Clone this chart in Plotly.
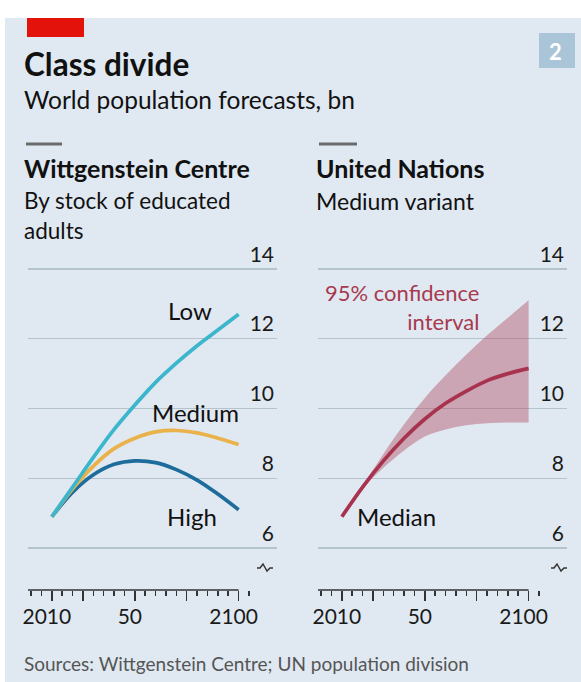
import plotly.graph_objects as go

W, H = 581, 682
FONT = "Lato"

years = [2010, 2020, 2030, 2040, 2050, 2060, 2070, 2080, 2090, 2100]
wc_low = [6.9, 7.75, 8.6, 9.4, 10.1, 10.75, 11.3, 11.8, 12.25, 12.7]
wc_medium = [6.9, 7.7, 8.35, 8.85, 9.15, 9.33, 9.37, 9.3, 9.15, 8.97]
wc_high = [6.9, 7.6, 8.1, 8.4, 8.5, 8.45, 8.25, 7.95, 7.55, 7.1]
un_median = [6.9, 7.75, 8.5, 9.15, 9.7, 10.15, 10.5, 10.8, 11.0, 11.15]
un_upper = [6.9, 7.8, 8.7, 9.55, 10.3, 10.95, 11.55, 12.1, 12.6, 13.1]
un_lower = [6.9, 7.7, 8.3, 8.8, 9.2, 9.4, 9.52, 9.58, 9.6, 9.6]

y_ticks = [6, 8, 10, 12, 14]
x_tickvals = [2010, 2025, 2050, 2075, 2100]
x_ticktext = ["2010", "", "50", "", "2100"]

BG = "#e0e9f1"
GRID = "#b5c3cd"
C_LOW = "#3cb6cc"
C_MED = "#e9b24a"
C_HIGH = "#1e6c9b"
C_UN = "#a8334f"


def px(x):
    return x / W


def py(y):
    return 1 - y / H


fig = go.Figure()

fig.add_trace(go.Scatter(x=years, y=wc_high, mode="lines", line=dict(color=C_HIGH, width=3.7, shape="spline"),
                         xaxis="x", yaxis="y", showlegend=False, hoverinfo="skip"))
fig.add_trace(go.Scatter(x=years, y=wc_medium, mode="lines", line=dict(color=C_MED, width=3.7, shape="spline"),
                         xaxis="x", yaxis="y", showlegend=False, hoverinfo="skip"))
fig.add_trace(go.Scatter(x=years, y=wc_low, mode="lines", line=dict(color=C_LOW, width=3.7, shape="spline"),
                         xaxis="x", yaxis="y", showlegend=False, hoverinfo="skip"))

fig.add_trace(go.Scatter(x=years, y=un_upper, mode="lines", line=dict(color="rgba(0,0,0,0)", width=0, shape="spline"),
                         xaxis="x2", yaxis="y2", showlegend=False, hoverinfo="skip"))
fig.add_trace(go.Scatter(x=years, y=un_lower, mode="lines", line=dict(color="rgba(0,0,0,0)", width=0, shape="spline"),
                         fill="tonexty", fillcolor="rgba(176,62,90,0.40)",
                         xaxis="x2", yaxis="y2", showlegend=False, hoverinfo="skip"))
fig.add_trace(go.Scatter(x=years, y=un_median, mode="lines", line=dict(color=C_UN, width=3.7, shape="spline"),
                         xaxis="x2", yaxis="y2", showlegend=False, hoverinfo="skip"))

xr = [1998.5, 2118.5]
yr = [6 - (590 - 548) / 35, 14 + (269 - 236) / 35]
ydom = [py(590), py(236)]

xcommon = dict(range=xr, showgrid=False, zeroline=False, showline=False,
               tickmode="array", tickvals=x_tickvals, ticktext=x_ticktext,
               ticks="outside", ticklen=10, tickwidth=1.5, tickcolor="#333333",
               minor=dict(tickmode="linear", tick0=2010, dtick=5, ticks="outside", ticklen=5,
                          tickwidth=1.5, tickcolor="#333333", showgrid=False),
               tickfont=dict(family=FONT, size=21, color="#1a1a1a"),
               ticklabelshift=-5, ticklabelstandoff=-2,
               automargin=False, fixedrange=True)
ycommon = dict(range=yr, domain=ydom, showgrid=True, gridcolor=GRID, gridwidth=1.5,
               zeroline=False, showline=False, tickmode="array", tickvals=y_ticks,
               ticks="", side="right", ticklabelposition="inside top",
               tickfont=dict(family=FONT, size=21, color="#1a1a1a"),
               automargin=False, fixedrange=True)

fig.update_layout(
    width=W, height=H,
    margin=dict(l=0, r=0, t=0, b=0),
    paper_bgcolor="white", plot_bgcolor="rgba(0,0,0,0)",
    xaxis=dict(domain=[px(28), px(277)], anchor="y", **xcommon),
    yaxis=dict(anchor="x", **ycommon),
    xaxis2=dict(domain=[px(318), px(567)], anchor="y2", **xcommon),
    yaxis2=dict(anchor="x2", **ycommon),
    font=dict(family=FONT),
)

shapes = []
shapes.append(dict(type="rect", xref="paper", yref="paper", x0=px(5), x1=1, y0=0, y1=py(18),
                   fillcolor=BG, line=dict(width=0), layer="below"))
shapes.append(dict(type="rect", xref="paper", yref="paper", x0=px(27), x1=px(84), y0=py(37), y1=py(18),
                   fillcolor="#e3120b", line=dict(width=0)))
shapes.append(dict(type="rect", xref="paper", yref="paper", x0=px(539), x1=px(575), y0=py(68), y1=py(33),
                   fillcolor="#a9c5d7", line=dict(width=0)))
for x0, x1 in [(26, 62), (319, 357)]:
    shapes.append(dict(type="line", xref="paper", yref="paper", x0=px(x0), x1=px(x1), y0=py(144), y1=py(144),
                       line=dict(color="#6b6b6b", width=3)))
for xa, ya in [("x", "y"), ("x2", "y2")]:
    shapes.append(dict(type="line", xref=xa, yref=ya + " domain", x0=xr[0], x1=2100, y0=0, y1=0,
                       line=dict(color="#333333", width=1.5)))
for x0 in [257, 551]:
    pts = [(x0, 568), (x0 + 3, 568), (x0 + 6, 564), (x0 + 10, 571), (x0 + 13, 568), (x0 + 16, 568)]
    path = "M " + " L ".join(f"{px(a)},{py(b)}" for a, b in pts)
    shapes.append(dict(type="path", xref="paper", yref="paper", path=path,
                       line=dict(color="#333333", width=1.5)))

fig.update_layout(shapes=shapes)

ann = []


def text(x, y, s, size, bold=False, color="#111111", xanchor="left", align="left"):
    ann.append(dict(xref="paper", yref="paper", x=px(x), y=py(y), text=f"<b>{s}</b>" if bold else s,
                    showarrow=False, xanchor=xanchor, yanchor="middle", align=align,
                    font=dict(family=FONT, size=size, color=color)))


text(547, 51, "2", 22, bold=True, color="white")
text(22, 64, "Class divide", 31.5, bold=True)
text(22, 100, "World population forecasts, bn", 24.5)
text(22, 168, "Wittgenstein Centre", 25, bold=True)
text(314, 168, "United Nations", 25, bold=True)
text(22, 201, "By stock of educated", 22.5)
text(22, 231, "adults", 22.5)
text(314, 201, "Medium variant", 23)
text(22, 663, "Sources: Wittgenstein Centre; UN population division", 19, color="#555555")


def dtext(xa, ya, x, y, s, size=24, color="#111111", xanchor="center", align="center"):
    ann.append(dict(xref=xa, yref=ya, x=x, y=y, text=s, showarrow=False, xanchor=xanchor,
                    yanchor="middle", align=align, font=dict(family=FONT, size=size, color=color)))


dtext("x", "y", 2076.5, 12.8, "Low")
dtext("x", "y", 2079, 9.9, "Medium")
dtext("x", "y", 2077.5, 6.9, "High")
dtext("x2", "y2", 2036.5, 6.9, "Median")
dtext("x2", "y2", 2077, 12.9, "95% confidence<br>interval", size=22, color="#a8394f", xanchor="right", align="right")

fig.update_layout(annotations=ann)

fig.write_html("out.html", config={"displayModeBar": False, "staticPlot": True},
               post_script="document.body.style.margin='0';document.body.style.overflow='hidden';")
